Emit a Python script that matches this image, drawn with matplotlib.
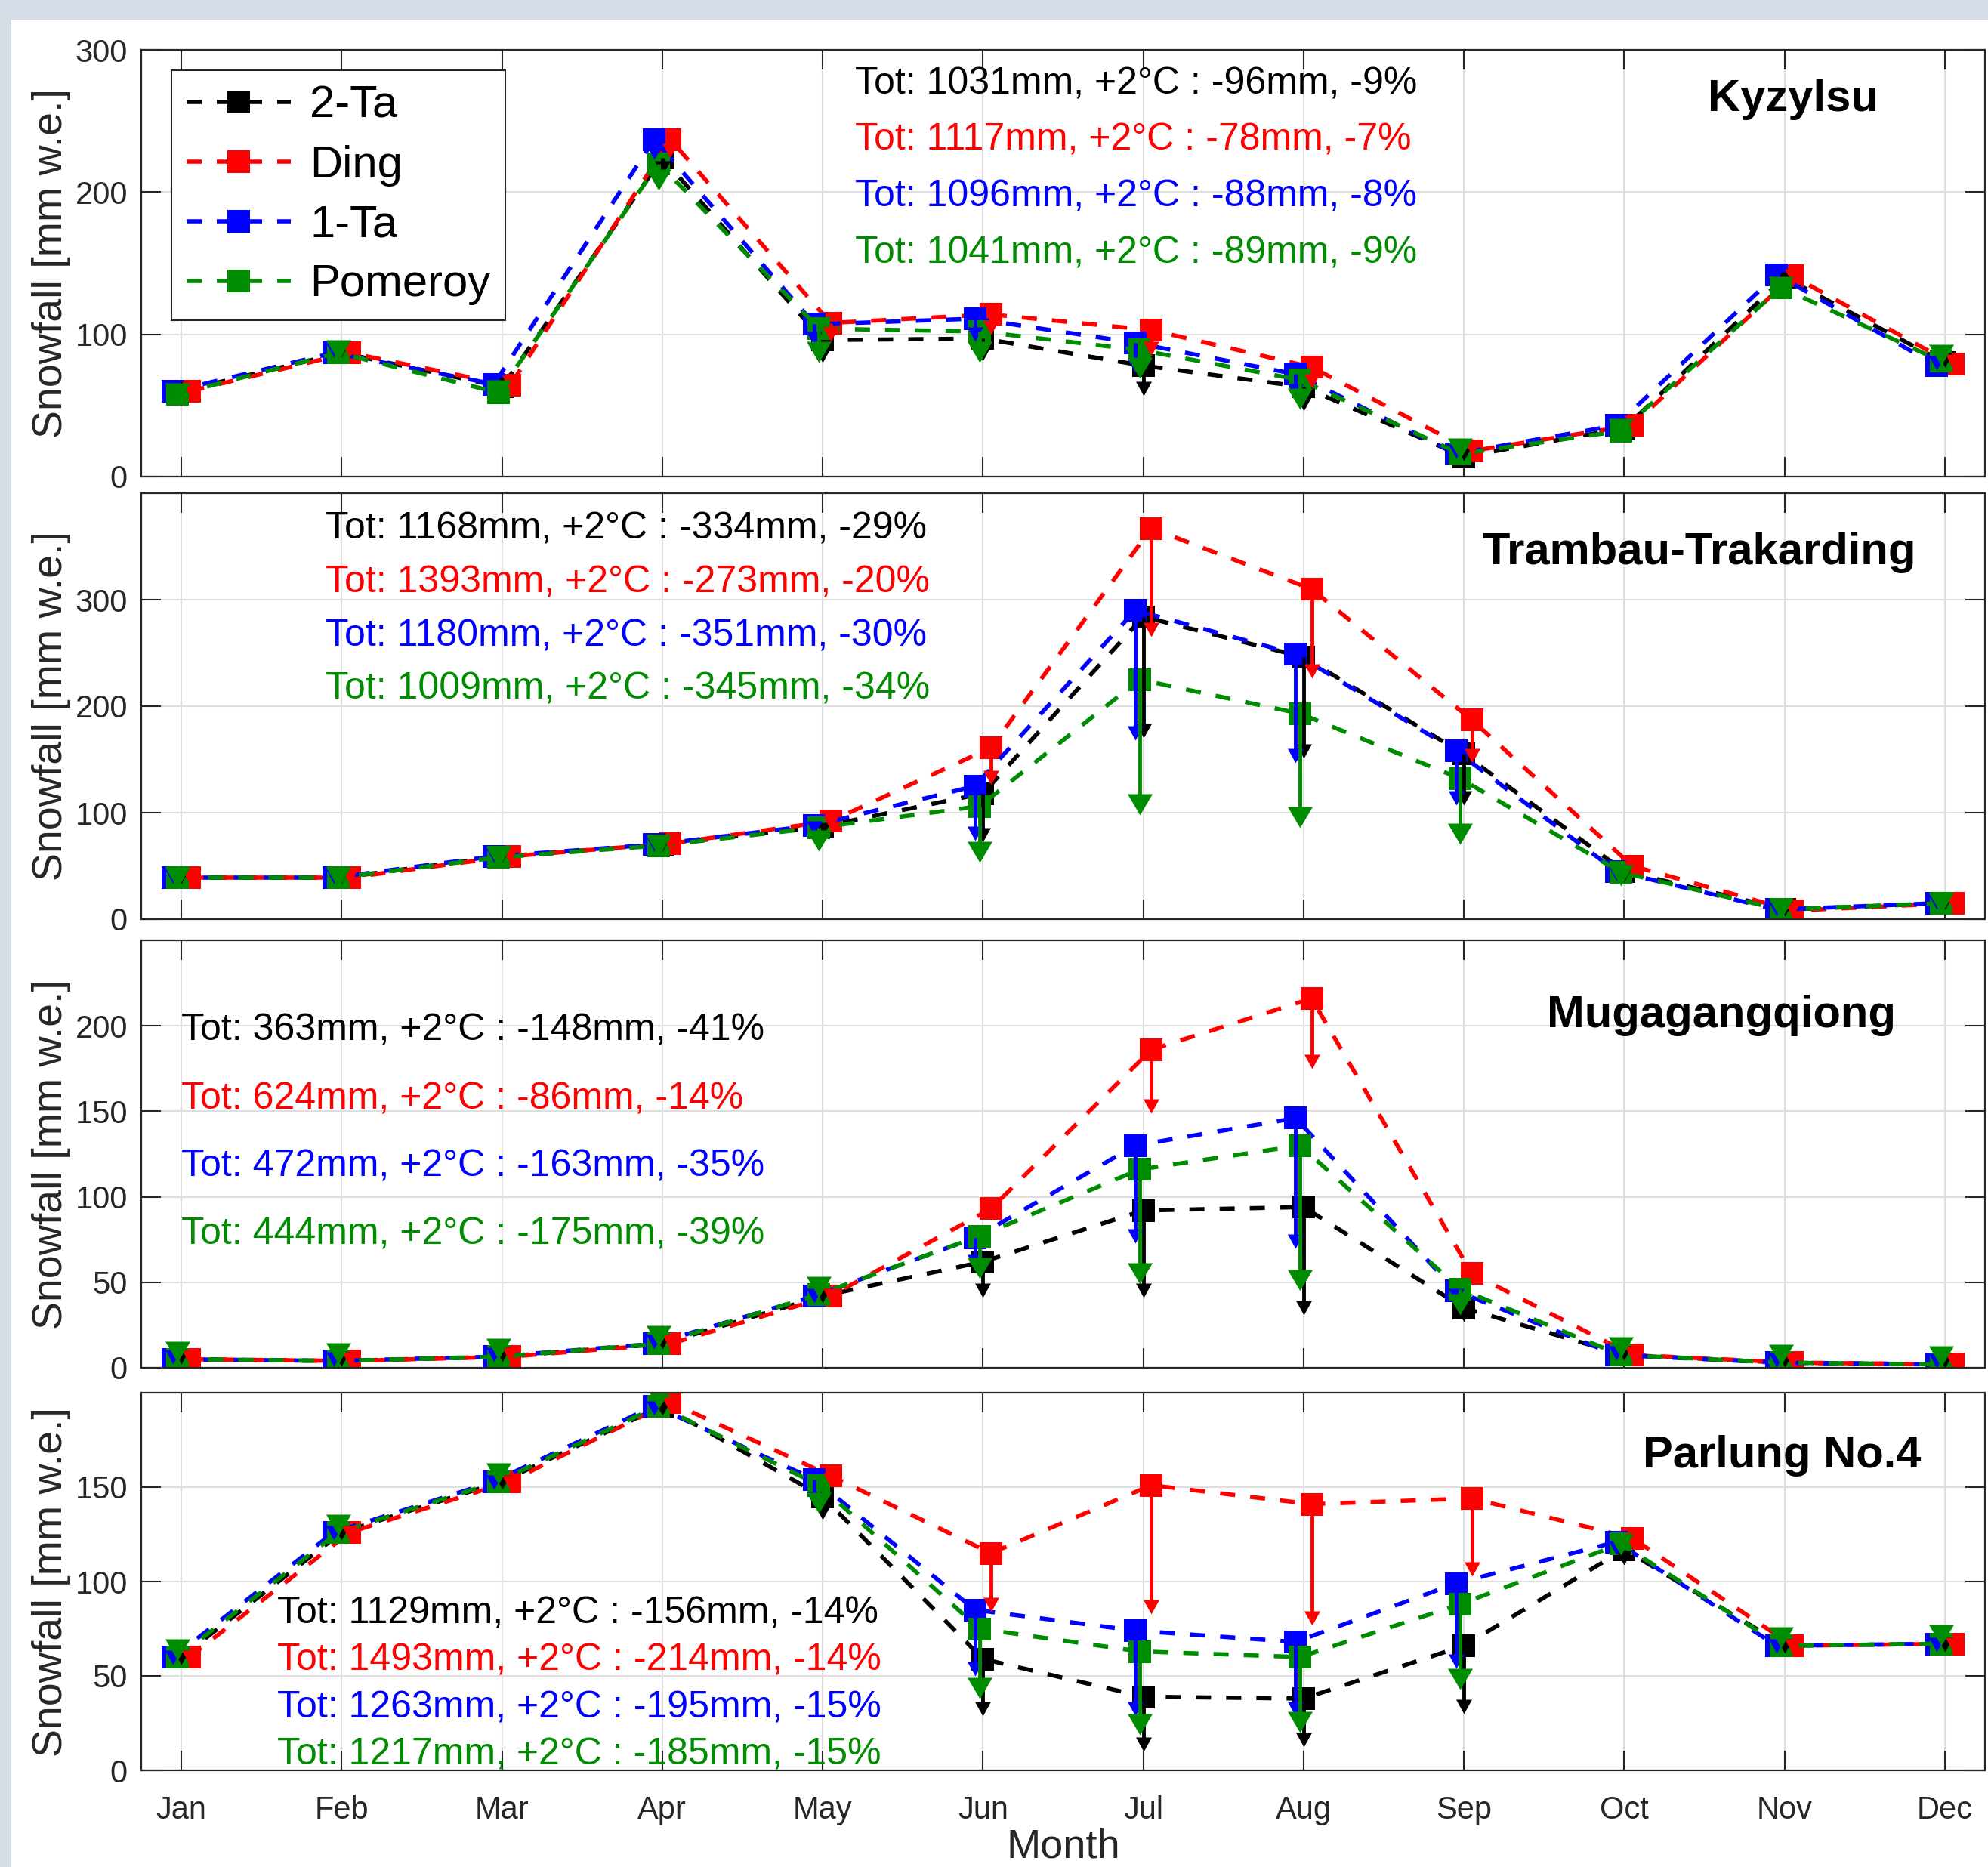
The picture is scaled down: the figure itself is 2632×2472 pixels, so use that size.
import numpy as np
import matplotlib
matplotlib.use("Agg")
import matplotlib.pyplot as plt
from matplotlib.patches import Rectangle
from matplotlib.path import Path

plt.rcParams['font.family'] = ['Liberation Sans', 'DejaVu Sans']

# ---------------- data ----------------
MONTHS = ['Jan', 'Feb', 'Mar', 'Apr', 'May', 'Jun', 'Jul', 'Aug', 'Sep', 'Oct', 'Nov', 'Dec']
SERIES = ['2-Ta', 'Ding', '1-Ta', 'Pomeroy']
STATIONS = ['Kyzylsu', 'Trambau-Trakarding', 'Mugagangqiong', 'Parlung No.4']

# Kyzylsu: present-day snowfall and +2 degC snowfall (mm w.e.)
kyz_2ta   = [60, 87, 63, 224, 96, 97, 78, 63, 14, 34, 140, 80]
kyz_2ta_w = [57, 84, 60, 212, 80, 81, 57, 46, 11, 31, 134, 77]
kyz_ding   = [60, 87, 64, 237, 108, 114, 103, 77, 18, 36, 141, 79]
kyz_ding_w = [57, 84, 61, 224, 95, 100, 85, 62, 15, 33, 136, 76]
kyz_1ta   = [60, 87, 65, 237, 107, 111, 94, 72, 16, 36, 142, 78]
kyz_1ta_w = [57, 84, 62, 223, 92, 95, 73, 55, 13, 33, 137, 75]
kyz_pom   = [58, 87, 59, 220, 104, 102, 89, 68, 16, 32, 133, 81]
kyz_pom_w = [51, 81, 53, 201, 80, 80, 69, 47, 12, 26, 126, 78]

# Trambau-Trakarding
tra_2ta   = [39, 39, 59, 70, 87, 118, 284, 246, 155, 45, 9, 15]
tra_2ta_w = [33, 33, 53, 64, 77, 72, 170, 151, 107, 35, 3, 9]
tra_ding   = [39, 39, 59, 71, 92, 161, 367, 310, 187, 50, 8, 15]
tra_ding_w = [33, 33, 53, 65, 84, 126, 265, 226, 147, 42, 2, 9]
tra_1ta   = [39, 39, 59, 70, 88, 125, 290, 249, 158, 45, 9, 15]
tra_1ta_w = [33, 33, 53, 64, 79, 74, 168, 147, 107, 36, 3, 9]
tra_pom   = [39, 39, 58, 69, 86, 106, 225, 193, 132, 44, 9, 15]
tra_pom_w = [29, 29, 48, 59, 64, 53, 98, 86, 70, 31, 0, 5]

# Mugagangqiong
mug_2ta   = [5, 4, 6.5, 14, 42, 62, 92, 94, 35, 7.5, 3, 2]
mug_2ta_w = [2, 1, 3.5, 11, 38, 41, 41, 31, 27, 4.5, 0.5, 0]
mug_ding   = [5, 4, 6.5, 14, 42, 93, 186, 216, 55, 7.5, 3, 2]
mug_ding_w = [2, 1, 3.5, 11, 38, 86, 149, 175, 50, 4.5, 0.5, 0]
mug_1ta   = [5, 4, 6.5, 14, 42, 76, 130, 146, 45, 7.5, 3, 2]
mug_1ta_w = [2, 1, 3.5, 11, 38, 58, 73, 70, 38, 4.5, 0.5, 0]
mug_pom   = [5, 4, 6.5, 14, 43, 77, 116, 130, 46, 7.5, 3, 2]
mug_pom_w = [3.2, 2.3, 4.7, 12.2, 41, 52, 49, 45, 31, 5.8, 1.4, 0.5]

# Parlung No.4
par_2ta   = [60, 126, 153, 193, 145, 59, 39, 38, 66, 117, 66, 67]
par_2ta_w = [56, 122, 149, 188, 133, 29, 10, 12.5, 30, 109, 62, 63]
par_ding   = [60, 126, 153, 195, 156, 115, 151, 141, 144, 123, 66, 67]
par_ding_w = [56, 122, 149, 190, 150, 84, 83, 77, 103, 118, 62, 63]
par_1ta   = [60, 126, 153, 193, 154, 85, 74, 68, 99, 121, 66, 67]
par_1ta_w = [56, 122, 149, 188, 140, 50, 29, 29, 54, 114, 62, 63]
par_pom   = [60, 126, 153, 193, 151, 75, 63, 60, 88, 120, 66, 67]
par_pom_w = [58.5, 124.5, 151.5, 191.5, 136, 38, 19, 20, 43, 114, 65, 66]

# annual totals and +2 degC changes (text)
kyz_tot = [1031, 1117, 1096, 1041]; kyz_dmm = [-96, -78, -88, -89]; kyz_pct = [-9, -7, -8, -9]
tra_tot = [1168, 1393, 1180, 1009]; tra_dmm = [-334, -273, -351, -345]; tra_pct = [-29, -20, -30, -34]
mug_tot = [363, 624, 472, 444]; mug_dmm = [-148, -86, -163, -175]; mug_pct = [-41, -14, -35, -39]
par_tot = [1129, 1493, 1263, 1217]; par_dmm = [-156, -214, -195, -185]; par_pct = [-14, -14, -15, -15]

PANELS = [
    ([kyz_2ta, kyz_ding, kyz_1ta, kyz_pom], [kyz_2ta_w, kyz_ding_w, kyz_1ta_w, kyz_pom_w], kyz_tot, kyz_dmm, kyz_pct),
    ([tra_2ta, tra_ding, tra_1ta, tra_pom], [tra_2ta_w, tra_ding_w, tra_1ta_w, tra_pom_w], tra_tot, tra_dmm, tra_pct),
    ([mug_2ta, mug_ding, mug_1ta, mug_pom], [mug_2ta_w, mug_ding_w, mug_1ta_w, mug_pom_w], mug_tot, mug_dmm, mug_pct),
    ([par_2ta, par_ding, par_1ta, par_pom], [par_2ta_w, par_ding_w, par_1ta_w, par_pom_w], par_tot, par_dmm, par_pct),
]

# ---------------- style / layout ----------------
COLORS = ['#000000', '#ff0000', '#0000ff', '#008c00']
OFFSETS = [0.0, 0.05, -0.05, -0.022]
HEAD_PX = [(21, 19), (21, 19), (21, 19), (33, 28)]   # (width, length) in pixels
AX_COLOR = '#262626'

W_PX, H_PX = 2632, 2472
DPI = 100
AX_LEFT, AX_RIGHT = 187, 2628
AX_TB = [(66, 631), (653, 1217), (1245, 1811), (1844, 2344)]
YMAX = [300, 400, 250, 200]
YTICKS = [[0, 100, 200, 300], [0, 100, 200, 300], [0, 50, 100, 150, 200], [0, 50, 100, 150]]
TXT_X = [5.2, 1.9, 1.0, 1.6]
TXT_Y = [[269, 229.5, 190, 150], [357, 306.6, 256.7, 207], [191.6, 151.5, 112.1, 72], [77.9, 52.9, 27.8, 2.9]]
TITLE_XY = [(10.52, 256.8), (9.115, 333.2), (9.517, 199.2), (10.116, 160.5)]


def head_marker(width, length):
    hw = 0.5 * width / length
    return Path([(0, 0), (-hw, 1), (hw, 1), (0, 0)],
                [Path.MOVETO, Path.LINETO, Path.LINETO, Path.CLOSEPOLY])


fig = plt.figure(figsize=(W_PX / DPI, H_PX / DPI), dpi=DPI)
fig.patch.set_facecolor('white')
band = '#d4dce6'
fig.add_artist(Rectangle((0, 1 - 26 / H_PX), 1, 26 / H_PX, transform=fig.transFigure,
                         facecolor=band, edgecolor='none', zorder=-10))
fig.add_artist(Rectangle((0, 0), 15 / W_PX, 1, transform=fig.transFigure,
                         facecolor=band, edgecolor='none', zorder=-10))

x = np.arange(1, 13)
for p, (bases, warms, tots, dmms, pcts) in enumerate(PANELS):
    top, bot = AX_TB[p]
    ax = fig.add_axes([AX_LEFT / W_PX, 1 - bot / H_PX, (AX_RIGHT - AX_LEFT) / W_PX, (bot - top) / H_PX])
    ymax = YMAX[p]
    px_per_unit = (bot - top) / ymax

    for i in range(4):
        xs = x + OFFSETS[i]
        ax.plot(xs, bases[i], color=COLORS[i], lw=4, ls=(0, (3.6, 3.6)), marker='s', ms=21.6,
                mew=0, label=SERIES[i], zorder=3 + 0.1 * i)

    for i in range(4):
        xs = x + OFFSETS[i]
        b = np.array(bases[i], float)
        w = np.array(warms[i], float)
        m = w < b
        hw_px, hl_px = HEAD_PX[i]
        hl = hl_px / px_per_unit
        for xx, bb, ww in zip(xs[m], b[m], w[m]):
            end = ww + 0.5 * hl
            if end < bb:
                ax.plot([xx, xx], [bb, end], color=COLORS[i], lw=3.5, solid_capstyle='butt',
                        zorder=6 + 0.1 * i)
        ax.plot(xs[m], w[m], ls='none', marker=head_marker(hw_px, hl_px),
                ms=2 * hl_px * 72 / DPI, mew=0, color=COLORS[i], zorder=6.05 + 0.1 * i)

    for i in range(4):
        ax.text(TXT_X[p], TXT_Y[p][i], f"Tot: {tots[i]}mm, +2°C : {dmms[i]}mm, {pcts[i]}%",
                color=COLORS[i], fontsize=36, ha='left', va='baseline', zorder=8)
    ax.text(TITLE_XY[p][0], TITLE_XY[p][1], STATIONS[p], fontsize=43, fontweight='bold',
            ha='left', va='baseline', color='black', zorder=8)

    ax.set_xlim(0.75, 12.25)
    ax.set_ylim(0, ymax)
    ax.set_xticks(x)
    ax.set_xticklabels(MONTHS)
    ax.set_yticks(YTICKS[p])
    ax.grid(True, color='#dedede', lw=1.5)
    ax.set_axisbelow(True)
    ax.tick_params(axis='both', direction='in', length=19, width=1.5, top=True, right=True,
                   colors=AX_COLOR, labelsize=30)
    ax.tick_params(axis='y', pad=13)
    ax.tick_params(axis='x', pad=24)
    for sp in ax.spines.values():
        sp.set_linewidth(1.6)
        sp.set_color(AX_COLOR)
        sp.set_zorder(9)
    ax.set_ylabel('Snowfall [mm w.e.]', fontsize=40, color=AX_COLOR)
    ax.yaxis.set_label_coords(-0.0383, 0.5)
    if p < 3:
        ax.tick_params(axis='x', labelbottom=False)
    else:
        ax.set_xlabel('Month', fontsize=39, color=AX_COLOR)
        ax.xaxis.set_label_coords(0.5, -0.152)

    if p == 0:
        leg = ax.legend(loc='upper left', bbox_to_anchor=(0.0164, 0.952), borderaxespad=0,
                        fontsize=43, frameon=True, fancybox=False, framealpha=1,
                        edgecolor=AX_COLOR, handlelength=2.32, handletextpad=0.42,
                        labelspacing=0.4, borderpad=0.33, numpoints=1)
        leg.get_frame().set_linewidth(1.5)
        leg.set_zorder(20)

fig.savefig('out.png', dpi=DPI)
